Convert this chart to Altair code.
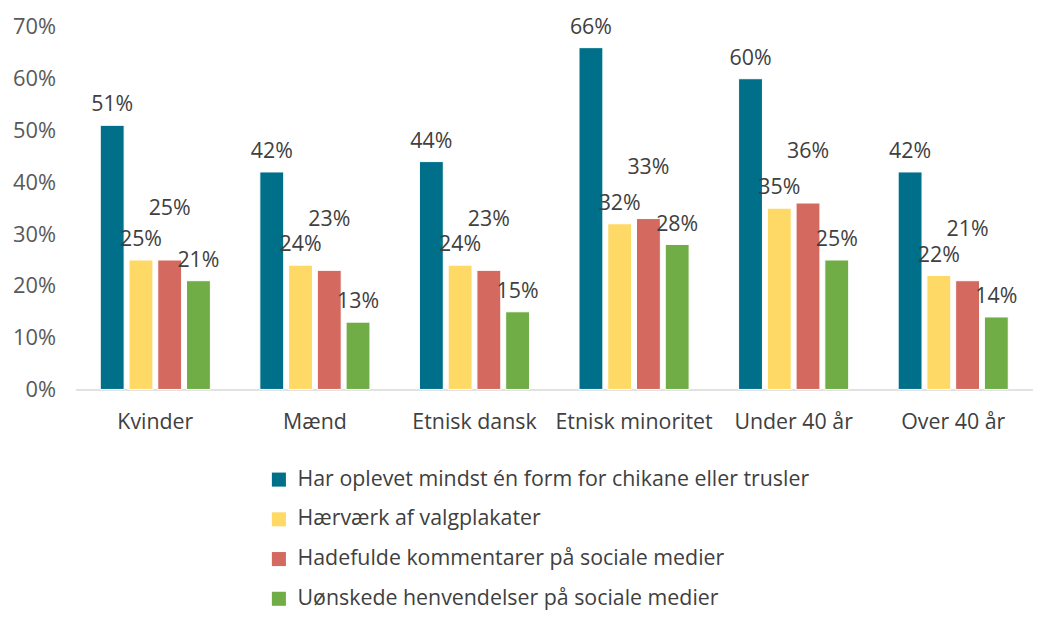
import altair as alt
import pandas as pd

categories = ["Kvinder", "Mænd", "Etnisk dansk", "Etnisk minoritet", "Under 40 år", "Over 40 år"]
series = [
    "Har oplevet mindst én form for chikane eller trusler",
    "Hærværk af valgplakater",
    "Hadefulde kommentarer på sociale medier",
    "Uønskede henvendelser på sociale medier",
]
colors = ["#00708A", "#FFD966", "#D46A5F", "#70AD47"]
values = [
    [51, 42, 44, 66, 60, 42],
    [25, 24, 24, 32, 35, 22],
    [25, 23, 23, 33, 36, 21],
    [21, 13, 15, 28, 25, 14],
]

rows = []
for si, s in enumerate(series):
    for ci, c in enumerate(categories):
        rows.append({"cat": c, "series": s, "order": si, "value": values[si][ci] / 100})
df = pd.DataFrame(rows)

FONT = "Open Sans"
FS = 21.5

base = alt.Chart(df).encode(
    x=alt.X("cat:N", sort=categories,
            scale=alt.Scale(paddingInner=0.31, paddingOuter=0.155),
            axis=alt.Axis(title=None, labelAngle=0, labelFontSize=FS, labelColor="#404040",
                          labelFont=FONT, ticks=False, domainColor="#D9D9D9", domainWidth=1.5,
                          labelPadding=22)),
    xOffset=alt.XOffset("series:N", sort=series, scale=alt.Scale(paddingInner=0.17)),
)

bars = base.mark_bar(stroke="white", strokeWidth=1).encode(
    y=alt.Y("value:Q", scale=alt.Scale(domain=[0, 0.7]),
            axis=alt.Axis(title=None, format=".0%", values=[0, 0.1, 0.2, 0.3, 0.4, 0.5, 0.6, 0.7],
                          grid=False, domain=False, ticks=False, labelFontSize=22,
                          labelColor="#595959", labelFont=FONT, labelPadding=20)),
    color=alt.Color("series:N", sort=series, scale=alt.Scale(domain=series, range=colors),
                    legend=alt.Legend(title=None, orient="none", legendX=194, legendY=445,
                                      direction="vertical", symbolType="square", symbolSize=200,
                                      symbolStrokeWidth=0, labelFontSize=FS, labelFont=FONT,
                                      labelColor="#404040", rowPadding=17, labelLimit=800,
                                      labelOffset=8)),
)

text_style = dict(baseline="bottom", fontSize=FS, font=FONT, color="#404040")

labels_main = base.transform_filter(
    alt.datum.series != series[2]
).mark_text(dy=-9, **text_style).encode(
    y=alt.Y("value:Q"),
    text=alt.Text("value:Q", format=".0%"),
)

labels_raised = base.transform_filter(
    alt.datum.series == series[2]
).mark_text(dy=-40, **text_style).encode(
    y=alt.Y("value:Q"),
    text=alt.Text("value:Q", format=".0%"),
)

chart = (bars + labels_main + labels_raised).properties(
    width=964, height=365, autosize=alt.AutoSizeParams(type="none")
).configure(
    padding={"left": 68, "top": 17, "right": 0, "bottom": 223}
).configure_view(stroke=None)

chart.save("out.html", embed_options={"renderer": "svg", "actions": False})
